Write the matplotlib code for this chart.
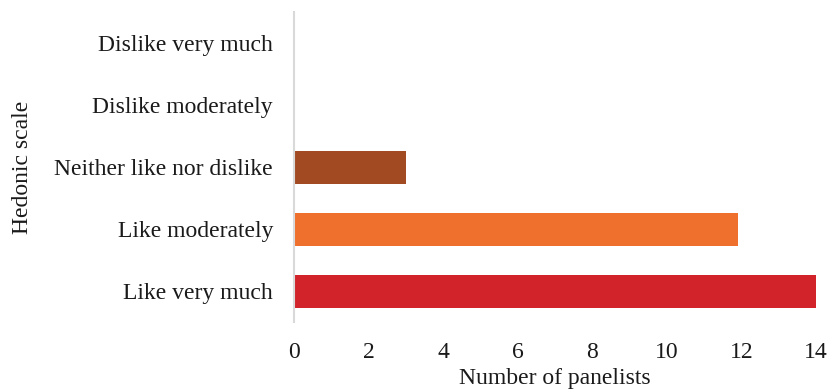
import matplotlib.pyplot as plt

categories = ["Like very much", "Like moderately", "Neither like nor dislike",
              "Dislike moderately", "Dislike very much"]
panelists = [14, 11.9, 3, 0, 0]
colors = ["#D2232A", "#EF6F2C", "#A24A22", "#A24A22", "#A24A22"]

plt.rcParams['font.family'] = ['Liberation Serif', 'DejaVu Serif']

fig = plt.figure(figsize=(8.28, 3.91), dpi=100)
ax = fig.add_axes([0.355, 0.176, 0.6305, 0.793])

ax.barh(range(len(categories)), panelists, height=0.53, color=colors)

ax.set_xlim(0, 14)
ax.set_ylim(-0.5, 4.5)
ax.set_xticks(range(0, 15, 2))
ax.set_yticks(range(len(categories)))
ax.set_yticklabels(categories)
ax.tick_params(length=0, labelsize=17, colors="#1a1a1a")
ax.tick_params(axis='y', pad=15)
ax.tick_params(axis='x', pad=14)

for s in ["top", "right", "bottom"]:
    ax.spines[s].set_visible(False)
ax.spines["left"].set_color("#D9D9D9")
ax.spines["left"].set_linewidth(1.5)

ax.set_xlabel("Number of panelists", fontsize=17, color="#1a1a1a", labelpad=4)
ax.set_ylabel("Hedonic scale", fontsize=17, color="#1a1a1a")
ax.yaxis.set_label_coords(-0.50, 0.5)

fig.savefig("out.png", dpi=100)
